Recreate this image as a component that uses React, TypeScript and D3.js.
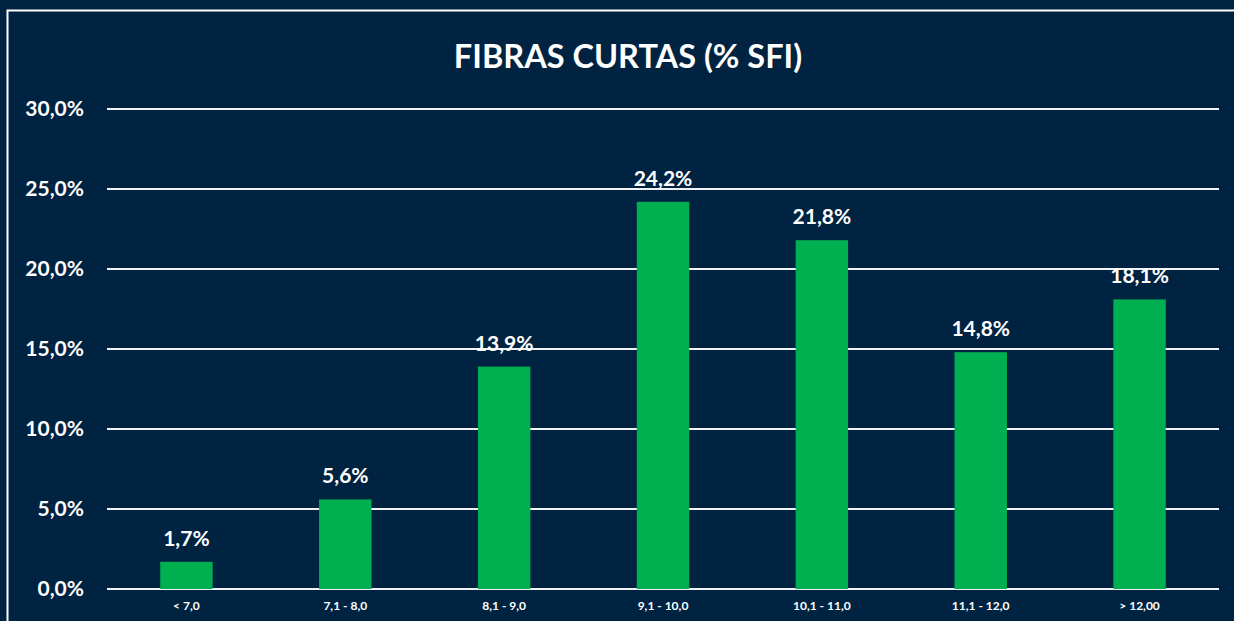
import React, { useEffect, useRef } from 'react';
import * as d3 from 'd3';

const categories = ['< 7,0', '7,1 - 8,0', '8,1 - 9,0', '9,1 - 10,0', '10,1 - 11,0', '11,1 - 12,0', '> 12,00'];
const values = [1.7, 5.6, 13.9, 24.2, 21.8, 14.8, 18.1];
const yTicks = [0, 5, 10, 15, 20, 25, 30];
const title = 'FIBRAS CURTAS (% SFI)';

const W = 1234;
const H = 621;
const FONT = 'Lato, "Open Sans", sans-serif';

const fmt = (v: number) => v.toFixed(1).replace('.', ',') + '%';

const App = () => {
  const ref = useRef<SVGSVGElement>(null);

  useEffect(() => {
    const svg = d3.select(ref.current);
    svg.selectAll('*').remove();

    const margin = { left: 107, right: 15, top: 109, bottom: 32 };

    svg.append('rect').attr('width', W).attr('height', H).attr('fill', '#002341');

    // frame
    svg.append('path')
      .attr('d', `M7.5,${H} V10.5 H${W}`)
      .attr('fill', 'none')
      .attr('stroke', '#ffffff')
      .attr('stroke-width', 2);

    const x = d3.scaleBand<string>()
      .domain(categories)
      .range([margin.left, W - margin.right])
      .paddingInner(0.67)
      .paddingOuter(0.335);

    const y = d3.scaleLinear()
      .domain([0, 30])
      .range([H - margin.bottom, margin.top]);

    svg.append('text')
      .attr('x', 628)
      .attr('y', 68)
      .attr('text-anchor', 'middle')
      .attr('fill', '#ffffff')
      .attr('font-family', FONT)
      .attr('font-weight', 'bold')
      .attr('font-size', 32.5)
      .text(title);

    const grid = svg.append('g');
    grid.selectAll('line')
      .data(yTicks)
      .enter()
      .append('line')
      .attr('x1', margin.left)
      .attr('x2', W - margin.right)
      .attr('y1', d => y(d))
      .attr('y2', d => y(d))
      .attr('stroke', '#f2f2f2')
      .attr('stroke-width', 2);

    grid.selectAll('text')
      .data(yTicks)
      .enter()
      .append('text')
      .attr('x', 84)
      .attr('y', d => y(d) + 7)
      .attr('text-anchor', 'end')
      .attr('fill', '#ffffff')
      .attr('font-family', FONT)
      .attr('font-weight', 'bold')
      .attr('font-size', 21)
      .text(d => fmt(d));

    const bars = svg.append('g');
    bars.selectAll('rect')
      .data(values)
      .enter()
      .append('rect')
      .attr('x', (d, i) => x(categories[i])!)
      .attr('y', d => y(d))
      .attr('width', x.bandwidth())
      .attr('height', d => y(0) - y(d))
      .attr('fill', '#00b050');

    bars.selectAll('text.val')
      .data(values)
      .enter()
      .append('text')
      .attr('class', 'val')
      .attr('x', (d, i) => x(categories[i])! + x.bandwidth() / 2)
      .attr('y', d => y(d) - 16)
      .attr('text-anchor', 'middle')
      .attr('fill', '#ffffff')
      .attr('font-family', FONT)
      .attr('font-weight', 'bold')
      .attr('font-size', 21)
      .text(d => fmt(d));

    svg.append('g')
      .selectAll('text')
      .data(categories)
      .enter()
      .append('text')
      .attr('x', d => x(d)! + x.bandwidth() / 2)
      .attr('y', H - margin.bottom + 21)
      .attr('text-anchor', 'middle')
      .attr('fill', '#ffffff')
      .attr('font-family', FONT)
      .attr('font-weight', 'bold')
      .attr('font-size', 12)
      .text(d => d);
  }, []);

  return (
    <svg
      ref={ref}
      width={W}
      height={H}
      style={{ position: 'absolute', left: 0, top: 0, display: 'block' }}
    />
  );
};

export default App;
